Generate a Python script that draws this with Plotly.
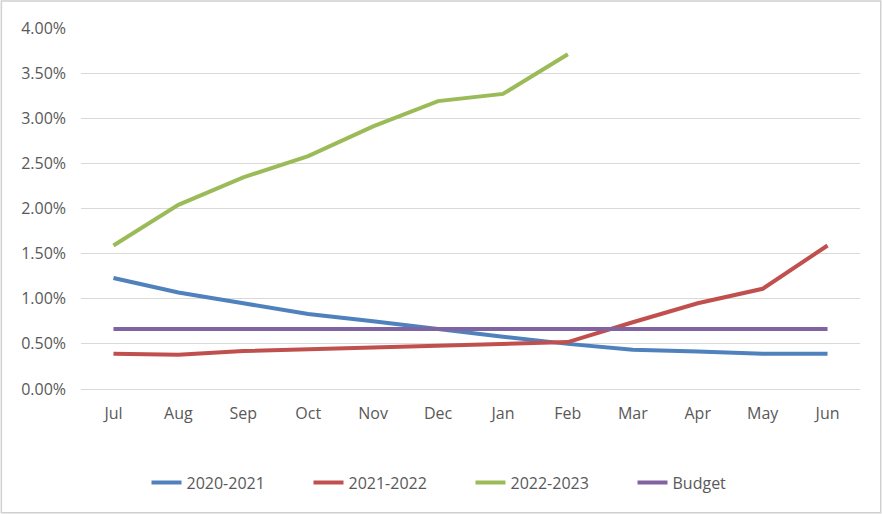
import plotly.graph_objects as go

months = ["Jul", "Aug", "Sep", "Oct", "Nov", "Dec", "Jan", "Feb", "Mar", "Apr", "May", "Jun"]
s2020_2021 = [1.23, 1.07, 0.95, 0.83, 0.75, 0.66, 0.58, 0.50, 0.435, 0.415, 0.39, 0.39]
s2021_2022 = [0.39, 0.38, 0.42, 0.44, 0.46, 0.49, 0.50, 0.52, 0.74, 0.95, 1.11, 1.59]
s2022_2023 = [1.59, 2.04, 2.345, 2.58, 2.91, 3.19, 3.27, 3.71]
budget = [0.665] * 12
y_ticks = [0, 0.5, 1.0, 1.5, 2.0, 2.5, 3.0, 3.5, 4.0]

series = [
    ("2020-2021", s2020_2021, "#4F81BD"),
    ("2021-2022", s2021_2022, "#C0504D"),
    ("2022-2023", s2022_2023, "#9BBB59"),
    ("Budget", budget, "#8064A2"),
]

W, H = 882, 514
ML, MR, MT, MB = 80.5, 21.5, 27.7, 124.7
PW, PH = W - ML - MR, H - MT - MB

fig = go.Figure()
for name, vals, col in series:
    fig.add_trace(go.Scatter(
        x=months[:len(vals)], y=[v / 100 for v in vals], name=name, mode="lines",
        line=dict(color=col, width=4),
    ))

font = dict(family="Open Sans, Noto Sans, sans-serif", size=16, color="#595959")
fig.update_layout(
    width=W, height=H,
    margin=dict(l=ML, r=MR, t=MT, b=MB, pad=0),
    paper_bgcolor="white", plot_bgcolor="white",
    font=font,
    showlegend=True,
    legend=dict(orientation="h", x=0.5, xanchor="center", y=(389.3 - 483) / PH, yanchor="middle",
                font=font, entrywidth=117, entrywidthmode="pixels", traceorder="normal"),
    xaxis=dict(type="category", categoryorder="array", categoryarray=months,
               range=[-0.5, 11.5], showgrid=False, showline=True, linecolor="#d9d9d9", linewidth=1,
               ticks="", ticklabelstandoff=10, fixedrange=True),
    yaxis=dict(range=[0, 0.04], tickvals=[v / 100 for v in y_ticks], tickformat=".2%",
               showgrid=True, gridcolor="#d9d9d9", gridwidth=1, zeroline=False, showline=False,
               ticks="", ticklabelstandoff=14, fixedrange=True),
    shapes=[dict(type="rect", xref="paper", yref="paper",
                 x0=(0.75 - ML) / PW, x1=(W - 0.75 - ML) / PW,
                 y0=(PH + MT - (H - 0.75)) / PH, y1=(PH + MT - 0.75) / PH,
                 line=dict(color="#d0d0d0", width=1.5), layer="below")],
)

fig.write_html("out.html", config={"displayModeBar": False},
               post_script="document.body.style.margin='0';document.body.style.overflow='hidden';")
